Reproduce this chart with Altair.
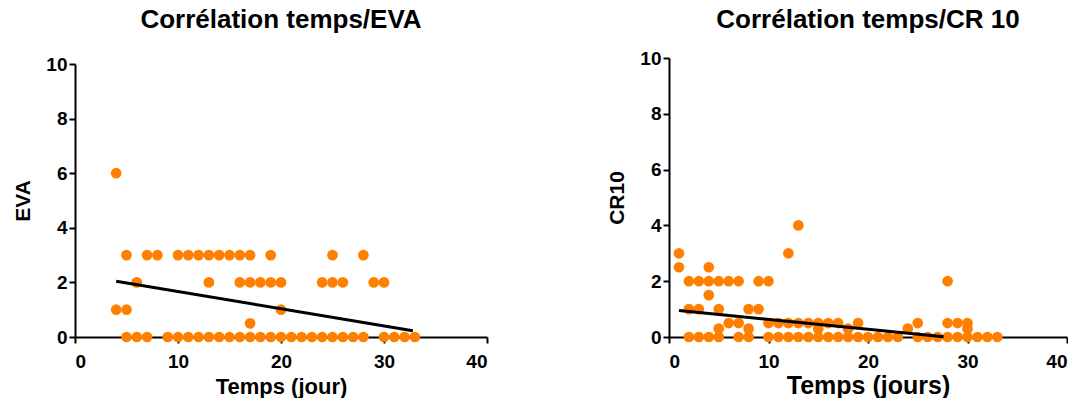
import altair as alt
import pandas as pd

# ---- Left panel: EVA vs time (days) ----
eva_temps = [
    4,                                                   # EVA 6
    5, 7, 8, 10, 11, 12, 13, 14, 15, 16, 17, 19, 25, 28,  # EVA 3
    6, 13, 16, 17, 18, 19, 20, 24, 25, 26, 29, 30,        # EVA 2
    4, 5, 20,                                            # EVA 1
    17,                                                  # EVA 0.5
    5, 6, 7, 9, 10, 11, 12, 13, 14, 15, 16, 17, 18, 19,   # EVA 0
    20, 21, 22, 23, 24, 25, 26, 27, 28, 30, 31, 32, 33,
]
eva_values = [
    6,
    3, 3, 3, 3, 3, 3, 3, 3, 3, 3, 3, 3, 3, 3,
    2, 2, 2, 2, 2, 2, 2, 2, 2, 2, 2, 2,
    1, 1, 1,
    0.5,
    0, 0, 0, 0, 0, 0, 0, 0, 0, 0, 0, 0, 0, 0,
    0, 0, 0, 0, 0, 0, 0, 0, 0, 0, 0, 0, 0,
]
eva_fit_temps = [4, 32.8]
eva_fit_values = [2.04, 0.23]

# ---- Right panel: CR10 vs time (days) ----
cr_temps = [
    13,                                   # 4
    1, 12,                                # 3
    1, 4,                                 # 2.5
    2, 3, 4, 5, 6, 7, 9, 10, 28,          # 2
    4,                                    # 1.5
    2, 3, 5, 8, 9,                        # 1
    6, 7, 10, 11, 12, 13, 14, 15, 16, 17, 19, 25, 28, 29, 30,  # 0.5
    5, 8, 15, 18, 24, 30,                 # 0.3
    2, 3, 4, 5, 7, 8, 10, 11, 12, 13, 14, 15, 16, 17, 18,      # 0
    19, 20, 21, 22, 23, 25, 26, 27, 28, 29, 30, 31, 32, 33,
]
cr_values = [
    4,
    3, 3,
    2.5, 2.5,
    2, 2, 2, 2, 2, 2, 2, 2, 2,
    1.5,
    1, 1, 1, 1, 1,
    0.5, 0.5, 0.5, 0.5, 0.5, 0.5, 0.5, 0.5, 0.5, 0.5, 0.5, 0.5, 0.5, 0.5, 0.5,
    0.3, 0.3, 0.3, 0.3, 0.3, 0.3,
    0, 0, 0, 0, 0, 0, 0, 0, 0, 0, 0, 0, 0, 0, 0,
    0, 0, 0, 0, 0, 0, 0, 0, 0, 0, 0, 0, 0, 0,
]
cr_fit_temps = [1, 27.6]
cr_fit_values = [0.95, 0.01]

x_ticks = [0, 10, 20, 30, 40]
y_ticks = [0, 2, 4, 6, 8, 10]

FONT = "Liberation Sans"
ORANGE = "#FF8000"


def panel(temps, values, fit_t, fit_v, title, xtitle, ytitle, width, height,
          yrange, xtitle_size, xtitle_pad, title_offset):
    pts_df = pd.DataFrame({"t": temps, "v": values})
    fit_df = pd.DataFrame({"t": fit_t, "v": fit_v})
    axis_style = dict(
        domainColor="black", domainWidth=2, tickColor="black", tickWidth=2,
        tickSize=6, grid=False, labelFont=FONT, labelFontWeight="bold",
        labelFontSize=19, labelColor="black", titleFont=FONT,
        titleFontWeight="bold", titleColor="black",
    )
    x = alt.X("t:Q", scale=alt.Scale(domain=[0, 40], nice=False),
              axis=alt.Axis(values=x_ticks, title=xtitle, titleFontSize=xtitle_size,
                            labelPadding=9, titlePadding=xtitle_pad, **axis_style))
    y = alt.Y("v:Q", scale=alt.Scale(domain=[0, 10], nice=False, range=yrange),
              axis=alt.Axis(values=y_ticks, title=ytitle, titleFontSize=21,
                            labelPadding=2, titlePadding=12, **axis_style))
    pts = alt.Chart(pts_df).mark_circle(size=115, color=ORANGE, opacity=1).encode(x=x, y=y)
    line = alt.Chart(fit_df).mark_line(color="black", strokeWidth=3).encode(x=x, y=y)
    return alt.layer(pts, line).properties(
        width=width, height=height,
        title=alt.TitleParams(title, font=FONT, fontSize=26, fontWeight="bold",
                              color="black", anchor="middle", frame="group",
                              offset=title_offset),
    )


left = panel(eva_temps, eva_values, eva_fit_temps, eva_fit_values,
             "Corrélation temps/EVA", "Temps (jour)", "EVA",
             412, 279, [279, 6], 22, 5, 22)
right = panel(cr_temps, cr_values, cr_fit_temps, cr_fit_values,
              "Corrélation temps/CR 10", "Temps (jours)", "CR10",
              398, 279, [279, 0], 25, 2, 16)

chart = alt.hconcat(left, right, spacing=182, bounds="flush").properties(
    padding={"left": 12, "top": 7, "right": 0, "bottom": 0},
    background="white",
).configure_view(stroke=None)

chart.save("out.html", embed_options={"renderer": "svg", "actions": False})
